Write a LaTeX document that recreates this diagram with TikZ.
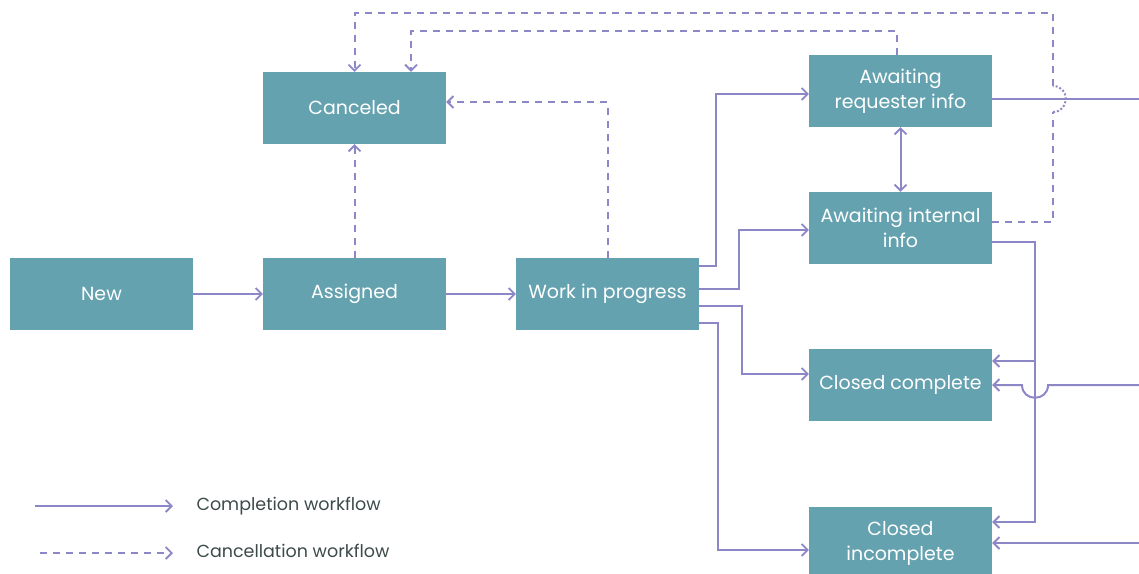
\documentclass[tikz,border=0pt]{standalone}
\usepackage{fontspec}
\setmainfont{Poppins}
\usetikzlibrary{arrows.meta}
\definecolor{boxc}{HTML}{65A2AF}
\definecolor{linec}{HTML}{8C88C8}
\definecolor{legc}{HTML}{3C4A4A}
\begin{document}
\begin{tikzpicture}[x=1pt,y=-1pt,
  state/.style={fill=boxc, text=white, minimum width=183pt, minimum height=72pt, inner sep=0pt, align=center, font=\fontsize{19}{25}\selectfont},
  tipb/.tip={Straight Barb[length=6pt,width=12pt,line width=1.8pt]},
  plain/.style={draw=linec, line width=2pt},
  flow/.style={plain, -tipb},
  cflow/.style={flow, dash pattern=on 7pt off 6pt},
  jumpd/.style={plain, dash pattern=on 2pt off 2pt},
  legend/.style={anchor=west, text=legc, font=\fontsize{17.5}{20}\selectfont},
]
\useasboundingbox (0,0) rectangle (1139,573);
\clip (0,0) rectangle (1139,573);

\node[state] (new) at (101.5,294) {New};
\node[state] (asg) at (354.5,294) {Assigned};
\node[state] (can) at (354.5,108) {Canceled};
\node[state] (wip) at (607.5,294) {Work in progress};
\node[state] (req) at (900.5,91) {Awaiting\\requester info};
\node[state] (int) at (900.5,228) {Awaiting internal\\info};
\node[state] (cc) at (900.5,385) {Closed complete};
\node[state] (ci) at (900.5,543) {Closed\\incomplete};

% main flow
\draw[flow] (new) -- (asg);
\draw[flow] (asg) -- (wip);
\draw[flow] ([yshift=28pt]wip.east) -- ++(17,0) |- ([yshift=-3pt]req.west);
\draw[flow] ([yshift=5pt]wip.east) -- ++(40,0) |- ([yshift=-2pt]int.west);
\draw[flow] ([yshift=-12pt]wip.east) -- ++(43,0) |- ([yshift=11pt]cc.west);
\draw[flow] ([yshift=-29pt]wip.east) -- ++(19,0) |- ([yshift=-7pt]ci.west);
\draw[plain, tipb-tipb] (req.south) -- (int.north);

% cancellation
\draw[cflow] (asg.north) -- (can.south);
\draw[cflow] (wip.north) |- ([yshift=6pt]can.east);
\draw[cflow] ([xshift=-4pt]req.north) -- ++(0,-24) -| ([xshift=56.5pt]can.north);
\coordinate (j1) at (1053,112);
\coordinate (j2) at (1053,86);
\draw[plain, dash pattern=on 7pt off 6pt] ([yshift=6pt]int.east) -| (j1);
\draw[jumpd] (j1) .. controls (1070,112) and (1070,86) .. (j2);
\draw[cflow] (j2) -- (1053,13) -| (can.north);

% right side
\coordinate (reqout) at (1139,99);
\draw[plain] ([yshift=-8pt]req.east) -- (reqout);
\draw[flow] ([yshift=-14pt]int.east) -- ++(43,0) |- ([yshift=21pt]ci.east);
\coordinate (br) at (1035,361);
\draw[flow] (br) -- ([yshift=24pt]cc.east);
\coordinate (ccin) at (1139,385);
\draw[flow] (ccin) -- (1048,385) .. controls (1048,402) and (1022,402) .. (1022,385) -- (cc.east);
\coordinate (ciin) at (1139,543);
\draw[flow] (ciin) -- (ci.east);

% legend
\coordinate (l1a) at (35,506);
\coordinate (l1b) at (173,506);
\coordinate (l2a) at (40,553);
\coordinate (l2b) at (173,553);
\draw[flow] (l1a) -- (l1b);
\draw[cflow] (l2a) -- (l2b);
\node[legend] (lt1) at (193,506) {Completion workflow};
\node[legend] (lt2) at (193,551) {Cancellation workflow};
\end{tikzpicture}
\end{document}
